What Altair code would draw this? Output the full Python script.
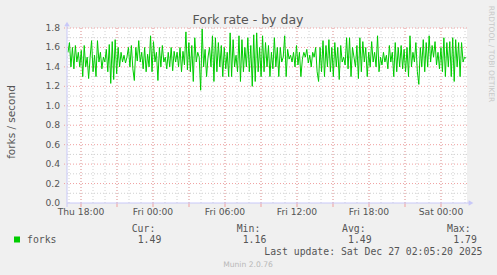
import altair as alt
import numpy as np
import pandas as pd

# ---- data (forks / second, 5-min samples, Thu 16:55 -> Sat 02:05)
forks_part1 = [
    1.55, 1.65, 1.40, 1.60, 1.38, 1.62, 1.45, 1.55, 1.40, 1.57, 1.30, 1.62, 1.40, 1.50, 1.28,
    1.50, 1.67, 1.35, 1.52, 1.30, 1.67, 1.45, 1.55, 1.38, 1.50, 1.45, 1.58, 1.35, 1.63, 1.23,
    1.66, 1.27, 1.68, 1.33, 1.60, 1.40, 1.55, 1.45, 1.52, 1.44, 1.50, 1.60, 1.40, 1.62, 1.38,
    1.26, 1.60, 1.46, 1.67, 1.45, 1.55, 1.38, 1.60, 1.35, 1.53, 1.40, 1.72, 1.35, 1.66, 1.45,
    1.55, 1.26, 1.60, 1.40, 1.62, 1.45, 1.50, 1.38, 1.55, 1.40, 1.60, 1.36, 1.56, 1.45, 1.55,
    1.40, 1.60, 1.35, 1.56, 1.42, 1.76, 1.37, 1.65, 1.35, 1.62, 1.25, 1.70, 1.45, 1.55, 1.50,
    1.16, 1.79, 1.40, 1.58, 1.30, 1.50, 1.60, 1.40, 1.72, 1.25, 1.70, 1.35, 1.65, 1.40, 1.62,
    1.30, 1.60, 1.38, 1.55, 1.30, 1.75, 1.30, 1.68, 1.40, 1.52, 1.35, 1.72, 1.25, 1.68, 1.35,
    1.60, 1.40, 1.70, 1.35, 1.62, 1.20, 1.73, 1.25, 1.75, 1.35, 1.60, 1.30, 1.72, 1.35, 1.65,
]
forks_part2 = [
    1.40, 1.62, 1.30, 1.55, 1.38, 1.70, 1.40, 1.60, 1.30, 1.60, 1.45, 1.50, 1.72, 1.30, 1.58,
    1.48, 1.52, 1.45, 1.55, 1.40, 1.62, 1.42, 1.55, 1.30, 1.48, 1.55, 1.50, 1.58, 1.44, 1.52,
    1.40, 1.55, 1.50, 1.60, 1.35, 1.25, 1.60, 1.35, 1.67, 1.30, 1.62, 1.40, 1.68, 1.35, 1.60,
    1.30, 1.65, 1.40, 1.60, 1.27, 1.62, 1.45, 1.50, 1.42, 1.70, 1.38, 1.70, 1.30, 1.60, 1.50,
    1.40, 1.62, 1.28, 1.70, 1.35, 1.66, 1.45, 1.60, 1.30, 1.55, 1.40, 1.66, 1.45, 1.55, 1.40,
    1.72, 1.35, 1.50, 1.42, 1.55, 1.45, 1.52, 1.38, 1.62, 1.45, 1.55, 1.30, 1.65, 1.35, 1.60,
    1.40, 1.62, 1.38, 1.58, 1.35, 1.60, 1.30, 1.72, 1.40, 1.55, 1.45, 1.65, 1.35, 1.22, 1.60,
    1.40, 1.68, 1.35, 1.65, 1.40, 1.72, 1.45, 1.62, 1.50, 1.66, 1.42, 1.55, 1.38, 1.60, 1.35,
    1.70, 1.30, 1.65, 1.40, 1.66, 1.30, 1.70, 1.25, 1.68, 1.40, 1.65, 1.30, 1.65, 1.45, 1.50,
    1.49,
]
forks = forks_part1 + forks_part2

# time axis in hours since Thu 00:00
start_hour = 16 + 55 / 60      # first sample
end_hour = 48 + 2 + 5 / 60     # last sample (Sat 02:05)
domain_x = [16 + 50 / 60, 50 + 10 / 60]
domain_y = [0, 1.8]

minor_x = list(range(17, 51))           # hourly grid
major_x = list(range(18, 51, 3))        # 3-hourly grid
label_x = [18, 24, 30, 36, 42, 48]      # tick positions
label_x_text = ["Thu 18:00", "Fri 00:00", "Fri 06:00", "Fri 12:00", "Fri 18:00", "Sat 00:00"]
minor_y = [0.1, 0.3, 0.5, 0.7, 0.9, 1.1, 1.3, 1.5, 1.7]
major_y = [0.2, 0.4, 0.6, 0.8, 1.0, 1.2, 1.4, 1.6, 1.8]
y_labels = [0.0, 0.2, 0.4, 0.6, 0.8, 1.0, 1.2, 1.4, 1.6, 1.8]
y_labels_text = ["0.0", "0.2", "0.4", "0.6", "0.8", "1.0", "1.2", "1.4", "1.6", "1.8"]

title_text = "Fork rate - by day"
y_title = "forks / second"
series_name = "forks"
stat_heads = ["Cur:", "Min:", "Avg:", "Max:"]
stat_values = ["1.49", "1.16", "1.49", "1.79"]
last_update = "Last update: Sat Dec 27 02:05:20 2025"
footer = "Munin 2.0.76"
side_text = "RRDTOOL / TOBI OETIKER"

GREEN = "#00CC00"
TEXT = "#555555"
AXIS = "#C8C8F8"
MGRID = "#F0A0A0"
GRID = "#D0D0D0"

sx = alt.Scale(domain=domain_x, nice=False, zero=False)
sy = alt.Scale(domain=domain_y, nice=False)
X = lambda f="h": alt.X(f + ":Q", scale=sx, axis=None)
Y = lambda f="v": alt.Y(f + ":Q", scale=sy, axis=None)

df = pd.DataFrame({"h": np.linspace(start_hour, end_hour, len(forks)), "v": forks})
one = pd.DataFrame({"a": [0]})

minor_v = alt.Chart(pd.DataFrame({"h": minor_x})).mark_rule(
    color=GRID, strokeWidth=1, strokeDash=[1, 2]
).encode(x=X())
major_v = alt.Chart(pd.DataFrame({"h": major_x})).mark_rule(
    color=MGRID, strokeWidth=1, strokeDash=[1, 2]
).encode(x=X())
major_v_ticks = alt.Chart(pd.DataFrame({"h": major_x})).mark_rule(
    color=MGRID, strokeWidth=1
).encode(x=X(), y=alt.value(175), y2=alt.value(179))
minor_h = alt.Chart(pd.DataFrame({"v": minor_y})).mark_rule(
    color=GRID, strokeWidth=1, strokeDash=[1, 2]
).encode(y=Y())
major_h = alt.Chart(pd.DataFrame({"v": major_y})).mark_rule(
    color=MGRID, strokeWidth=1, strokeDash=[1, 2]
).encode(y=Y(), x=alt.value(-3), x2=alt.value(400))

line = alt.Chart(df).mark_line(color=GREEN, strokeWidth=1, clip=True).encode(x=X(), y=Y())

x_labels = alt.Chart(pd.DataFrame({"h": label_x, "t": label_x_text})).mark_text(
    font="DejaVu Sans", fontSize=9.2, color=TEXT, align="center", baseline="alphabetic"
).encode(x=X(), y=alt.value(186.5), text="t:N")
y_lab = alt.Chart(pd.DataFrame({"v": y_labels, "t": y_labels_text})).mark_text(
    font="DejaVu Sans", fontSize=9.2, color=TEXT, align="right", baseline="middle"
).encode(y=Y(), x=alt.value(-7), text="t:N")

x_axis_line = alt.Chart(one).mark_rule(color=AXIS, strokeWidth=1).encode(
    x=alt.value(0), x2=alt.value(404), y=alt.value(175)
)
y_axis_line = alt.Chart(one).mark_rule(color=AXIS, strokeWidth=1).encode(
    x=alt.value(0), y=alt.value(179), y2=alt.value(-3)
)
x_arrow = alt.Chart(one).mark_point(shape="triangle-right", filled=True, color=AXIS, size=30, opacity=1).encode(
    x=alt.value(404), y=alt.value(175)
)
y_arrow = alt.Chart(one).mark_point(shape="triangle-up", filled=True, color=AXIS, size=30, opacity=1).encode(
    x=alt.value(0), y=alt.value(-4)
)


def txt(s, x, y, size=9.8, font="DejaVu Sans Mono", color=TEXT, align="left", angle=0, baseline="alphabetic"):
    return alt.Chart(one).mark_text(
        font=font, fontSize=size, color=color, align=align, baseline=baseline, angle=angle
    ).encode(x=alt.value(x), y=alt.value(y), text=alt.value(s))


texts = [
    txt(title_text, 181, -4, size=12.5, font="DejaVu Sans", align="center"),
    txt(y_title, -55, 94, size=10.5, font="DejaVu Sans", align="center", angle=270, baseline="middle"),
    txt(side_text, 424, 26, size=7.5, font="DejaVu Sans", color="#C8C8C8", align="center", angle=90, baseline="middle"),
    txt(series_name, -40, 215),
    txt(footer, 181, 239, size=7.6, font="DejaVu Sans", color="#B8B8B8", align="center"),
    txt(last_update, 415.5, 227, align="right"),
]
head_x = [64.7, 169.7, 275, 380]
val_x = [70.7, 175.7, 281, 386.3]
for hx, s in zip(head_x, stat_heads):
    texts.append(txt(s, hx, 204))
for vx, s in zip(val_x, stat_values):
    texts.append(txt(s, vx, 215))

legend_swatch = alt.Chart(one).mark_square(color=GREEN, size=36, opacity=1).encode(
    x=alt.value(-50), y=alt.value(211.5)
)

chart = alt.layer(
    minor_v, minor_h, major_v, major_h, major_v_ticks,
    line, x_axis_line, y_axis_line, x_arrow, y_arrow, legend_swatch,
    x_labels, y_lab, *texts
).properties(
    width=400,
    height=175,
    autosize=alt.AutoSizeParams(type="none"),
    padding={"left": 67, "top": 28, "right": 30, "bottom": 72},
    background="#F0F0F0",
).configure_view(fill="white", stroke=None)

chart.save("out.html", embed_options={"renderer": "svg", "actions": False})
